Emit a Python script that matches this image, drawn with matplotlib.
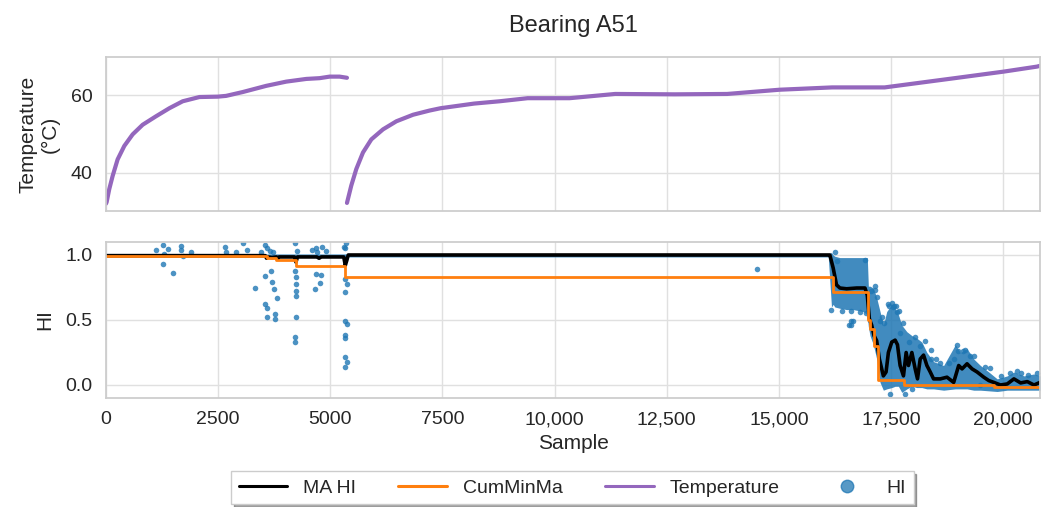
import matplotlib
matplotlib.use("Agg")
import matplotlib.pyplot as plt
import seaborn as sns
from matplotlib.lines import Line2D

sns.set_theme(style="whitegrid", rc={'grid.color': '0.88', 'axes.edgecolor': '0.8'})
plt.rcParams['font.family'] = ['Liberation Sans', 'DejaVu Sans']

# temperature, two runs
temp1_x = [0, 15, 74, 149, 260, 409, 595, 818, 1116, 1414, 1711, 2083, 2492, 2678, 3050, 3571, 4018, 4464, 4762,
           4985, 5208, 5372]
temp1_y = [31.9, 32.3, 35.7, 39.1, 43.4, 46.9, 49.9, 52.4, 54.6, 56.7, 58.5, 59.6, 59.7, 59.9, 60.9, 62.5, 63.6,
           64.3, 64.5, 64.9, 64.9, 64.6]
temp2_x = [5372, 5468, 5580, 5729, 5915, 6175, 6473, 6845, 7217, 7460, 8206, 8775, 9399, 10335, 11350, 12676,
           13846, 15016, 16186, 17357, 17747, 18917, 20009, 20750, 20820]
temp2_y = [32.1, 36.6, 40.9, 45.2, 48.6, 51.2, 53.3, 55.0, 56.1, 56.7, 57.9, 58.5, 59.3, 59.3, 60.4, 60.3,
           60.4, 61.5, 62.1, 62.1, 62.7, 64.5, 66.2, 67.5, 67.7]

# moving average of HI
ma_x = [0, 3550, 3580, 3610, 3700, 3800, 3830, 3860, 4200, 4235, 4270, 4700, 4750, 4800, 5300, 5335, 5370, 5400,
        16100, 16135, 16209, 16284, 16359, 16508, 16732, 16918, 16970, 17015, 17067, 17120, 17179, 17239, 17328,
        17388, 17440, 17515, 17590, 17642, 17701, 17776, 17836, 17888, 17963, 18037, 18089, 18149, 18224, 18298,
        18373, 18447, 18597, 18746, 18895, 19007, 19082, 19193, 19305, 19417, 19566, 19678, 19790, 19939, 20089,
        20238, 20387, 20536, 20685, 20820]
ma_y = [0.995, 0.995, 0.975, 0.985, 0.98, 0.985, 0.97, 0.985, 0.985, 0.945, 0.985, 0.985, 0.975, 0.985, 0.985,
        0.92, 0.96, 1.0,
        1.0, 1.0, 0.90, 0.77, 0.746, 0.74, 0.746, 0.746, 0.69, 0.51, 0.46, 0.38, 0.34, 0.20, 0.07,
        0.10, 0.25, 0.33, 0.345, 0.31, 0.15, 0.07, 0.25, 0.15, 0.25, 0.124, 0.047, 0.20, 0.23, 0.15,
        0.10, 0.047, 0.047, 0.06, 0.02, 0.15, 0.124, 0.163, 0.124, 0.10, 0.06, 0.034, 0.02, 0.0, 0.008,
        0.047, 0.016, 0.026, 0.0, 0.02]

# cumulative minimum of MA (step values)
cm_x = [0, 3580, 3800, 4240, 5330, 16200, 16980, 17040, 17120, 17200, 17790, 19800, 20820]
cm_y = [0.995, 0.975, 0.96, 0.917, 0.833, 0.712, 0.50, 0.43, 0.30, 0.04, 0.0, -0.012, -0.012]

# envelope of the dense HI cloud
env_x = [0, 16100, 16172, 16209, 16247, 16359, 16508, 16657, 16881, 16970, 16993, 17030, 17105, 17179, 17254,
         17328, 17403, 17515, 17590, 17664, 17739, 17851, 17963, 18074, 18186, 18298, 18447, 18671, 18932, 19044,
         19193, 19342, 19492, 19678, 19865, 20089, 20238, 20462, 20685, 20820]
env_hi = [1.008, 1.008, 1.02, 1.0, 0.99, 0.98, 0.98, 0.98, 0.98, 0.98, 0.76, 0.76, 0.746, 0.67, 0.565,
          0.46, 0.565, 0.62, 0.59, 0.54, 0.46, 0.41, 0.38, 0.36, 0.33, 0.25, 0.18, 0.15, 0.31, 0.25,
          0.28, 0.20, 0.15, 0.10, 0.047, 0.07, 0.10, 0.07, 0.085, 0.07]
env_lo = [0.985, 0.985, 0.60, 0.62, 0.60, 0.59, 0.58, 0.58, 0.565, 0.54, 0.45, 0.38, 0.31, 0.20, 0.02,
          -0.04, -0.03, -0.02, -0.01, -0.01, -0.057, -0.03, -0.01, -0.02, -0.02, -0.03, -0.03, -0.04, -0.03, -0.03,
          -0.03, -0.04, -0.04, -0.045, -0.05, -0.04, -0.04, -0.04, -0.04, -0.04]

# individual HI samples
hi_x = [1119, 1268, 1268, 1380, 1492, 1679, 1679, 1716, 2648, 2686, 3059, 3133, 3320, 3544, 3544, 3544, 3581,
        3581, 3670, 3693, 3752, 3805, 3767, 3767, 4215, 4215, 4237, 4237, 4237, 4237, 4237, 4215, 4215, 4685,
        4685, 4789, 4774, 4662, 4811, 5334, 5334, 5371, 5334, 5334, 5371, 5334, 5334, 5334, 5371, 5334, 14515,
        3450, 3600, 3650, 3720, 4250, 4600, 4700, 4900, 5300, 5360, 2900, 1900, 1300,
        16247, 16284, 16571, 16597, 16608, 16642, 16918, 17142, 17179, 17254, 17440, 17463, 17552, 17574, 17627,
        17478, 17813, 17963, 18895, 18970, 19492, 17300, 17700, 17900, 18150, 18500, 19100, 19250, 19600, 20400,
        16150, 16400, 16600, 16800, 16950, 17050, 17350, 17520, 17680, 17760, 18030, 18250, 18380, 18600, 18800,
        19000, 19350, 19700, 19950, 20150, 20300, 20550, 20750, 17150, 17600, 18400, 19150]
hi_y = [1.04, 1.078, 0.927, 1.044, 0.862, 1.07, 1.04, 0.99, 1.06, 1.026, 1.09, 1.04, 0.747, 1.078, 0.838, 0.62,
        0.52, 0.595, 0.88, 0.79, 0.74, 0.668, 0.548, 0.504, 1.09, 0.88, 0.83, 0.78, 0.726, 0.687, 0.52, 0.373,
        0.329, 1.05, 0.856, 0.843, 0.783, 0.74, 1.065, 1.05, 0.817, 0.778, 0.713, 0.49, 0.47, 0.386, 0.36, 0.217,
        0.178, 0.138, 0.89,
        1.02, 1.05, 1.03, 1.02, 1.03, 1.04, 1.02, 1.03, 1.06, 1.09, 1.02, 1.02, 1.01,
        1.02, 0.95, 0.46, 0.46, 0.495, 0.49, 0.96, 0.76, 0.68, 0.49, 0.62, 0.606, 0.60, 0.61, 0.56,
        -0.07, -0.07, -0.03, 0.20, 0.31, 0.0, 0.52, 0.40, 0.33, 0.30, 0.20, 0.26, 0.22, 0.14, 0.09,
        0.58, 0.57, 0.57, 0.56, 0.55, 0.72, 0.48, 0.63, 0.57, 0.48, 0.37, 0.34, 0.27, 0.17, 0.17,
        0.26, 0.22, 0.13, 0.07, 0.09, 0.11, 0.08, 0.09, 0.73, 0.61, 0.20, 0.27]

xtick_vals = [0, 2500, 5000, 7500, 10000, 12500, 15000, 17500, 20000]
xtick_labels = ['0', '2500', '5000', '7500', '10,000', '12,500', '15,000', '17,500', '20,000']

fig = plt.figure(figsize=(10.48, 5.07), dpi=100)
ax1 = fig.add_axes([0.1011, 0.5838, 0.8913, 0.3038])
ax2 = fig.add_axes([0.1011, 0.2150, 0.8913, 0.3077], sharex=ax1)

purple = '#9467bd'
blue = '#1f77b4'

ax1.plot(temp1_x, temp1_y, color=purple, lw=3, solid_capstyle='round')
ax1.plot(temp2_x, temp2_y, color=purple, lw=3, solid_capstyle='round')
ax1.set_ylim(30, 70)
ax1.set_yticks([40, 60])
ax1.set_ylabel('Temperature\n(°C)', fontsize=15, labelpad=8)
ax1.set_title('Bearing A51', fontsize=17, pad=18)
ax1.tick_params(axis='x', labelbottom=False)
ax1.tick_params(axis='y', labelsize=14)

ax2.fill_between(env_x, env_lo, env_hi, color=blue, alpha=0.85, lw=0)
ax2.scatter(hi_x, hi_y, s=16, color=blue, alpha=0.8, lw=0)
ax2.plot(ma_x, ma_y, color='black', lw=2.6)
ax2.step(cm_x, cm_y, where='post', color='#ff7f0e', lw=2.0)
ax2.set_ylim(-0.1, 1.1)
ax2.set_yticks([0.0, 0.5, 1.0])
ax2.set_ylabel('HI', fontsize=15, labelpad=8)
ax2.set_xlim(0, 20820)
ax2.set_xticks(xtick_vals)
ax2.set_xticklabels(xtick_labels)
ax2.set_xlabel('Sample', fontsize=15)
ax2.tick_params(labelsize=14)

fig.align_ylabels([ax1, ax2])

handles = [
    Line2D([], [], color='black', lw=2.2),
    Line2D([], [], color='#ff7f0e', lw=2.2),
    Line2D([], [], color=purple, lw=2.2),
    Line2D([], [], color=blue, marker='o', ls='', markersize=9, alpha=0.75),
]
labels = ['MA HI', 'CumMinMa', 'Temperature', 'HI']
fig.legend(handles, labels, loc='center', bbox_to_anchor=(0.546, 0.038), ncol=4, fontsize=14,
           shadow=True, frameon=True, fancybox=False, edgecolor='0.8', columnspacing=2.2, handlelength=2.5)

fig.savefig('out.png', dpi=100)
